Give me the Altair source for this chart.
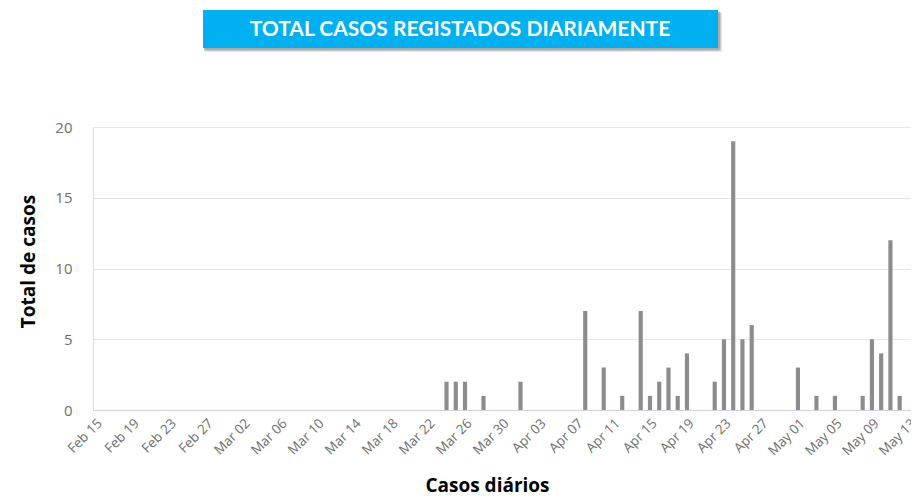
import altair as alt
import pandas as pd

# ---- data ----
start_date = "2020-02-15"
end_date = "2020-05-13"
case_dates = ["2020-03-24", "2020-03-25", "2020-03-26", "2020-03-28", "2020-04-01",
              "2020-04-08", "2020-04-10", "2020-04-12", "2020-04-14", "2020-04-15",
              "2020-04-16", "2020-04-17", "2020-04-18", "2020-04-19", "2020-04-22",
              "2020-04-23", "2020-04-24", "2020-04-25", "2020-04-26", "2020-05-01",
              "2020-05-03", "2020-05-05", "2020-05-08", "2020-05-09", "2020-05-10",
              "2020-05-11", "2020-05-12"]
case_values = [2, 2, 2, 1, 2,
               7, 3, 1, 7, 1,
               2, 3, 1, 4, 2,
               5, 19, 5, 6, 3,
               1, 1, 1, 5, 4,
               12, 1]
y_ticks = [0, 5, 10, 15, 20]
title_text = "TOTAL CASOS REGISTADOS DIARIAMENTE"
x_title = "Casos diários"
y_title = "Total de casos"

days = pd.date_range(start_date, end_date, freq="D")
day_labels = [d.strftime("%b %d") for d in days]
lookup = dict(zip(case_dates, case_values))
df = pd.DataFrame({
    "dia": day_labels,
    "casos": [lookup.get(d.strftime("%Y-%m-%d"), 0) for d in days],
})
tick_labels = day_labels[::4]

TFONT = "Lato"
AFONT = "Open Sans"
W, H = 818, 283

bars = alt.Chart(df).mark_bar(color="#8c8c8c").encode(
    x=alt.X("dia:N", sort=day_labels,
            scale=alt.Scale(paddingInner=0.55, paddingOuter=0.0),
            axis=alt.Axis(values=tick_labels, labelAngle=-45, labelAlign="right",
                          labelBaseline="top", labelPadding=6, ticks=False,
                          domainColor="#ccd6eb", labelColor="#6e6e6e",
                          labelFontSize=13.5, labelFont=AFONT, title=x_title,
                          titleFont=AFONT, titleFontSize=19, titleFontWeight="bold",
                          titleColor="#000000", titleX=394, titleY=85,
                          titleBaseline="bottom", titleAnchor="middle",
                          labelOverlap=False)),
    y=alt.Y("casos:Q", scale=alt.Scale(domain=[0, 20]),
            axis=alt.Axis(values=y_ticks, domain=False, ticks=False,
                          gridColor="#e6e6e6", labelColor="#6e6e6e",
                          labelFontSize=15, labelFont=AFONT, labelPadding=21,
                          title=y_title, titleFont=AFONT, titleFontSize=19,
                          titleFontWeight="bold", titleColor="#000000",
                          titleX=-65, titleY=134, titleBaseline="middle",
                          titleAngle=-90)),
)

one = alt.Data(values=[{"k": 1}])
bx0, bx1, by0, by1 = 110, 625, -117, -79
shadows = []
for i, op in enumerate([0.10, 0.12, 0.15]):
    off = 4 - i
    shadows.append(alt.Chart(one).mark_rect(color="#000000", opacity=op,
                                             cornerRadius=2).encode(
        x=alt.value(bx0 + 1), x2=alt.value(bx1 + off),
        y=alt.value(by0 + 2), y2=alt.value(by1 + off)))
box = alt.Chart(one).mark_rect(color="#00b0f0").encode(
    x=alt.value(bx0), x2=alt.value(bx1), y=alt.value(by0), y2=alt.value(by1))
txt = alt.Chart(one).mark_text(text=title_text, font=TFONT, fontSize=21,
                               fontWeight="bold", color="#ffffff",
                               align="center", baseline="middle").encode(
    x=alt.value(367), y=alt.value(-97.5))

chart = alt.layer(bars, *shadows, box, txt).properties(
    width=W, height=H,
    autosize=alt.AutoSizeParams(type="none"),
    padding={"left": 85, "top": 119, "right": 0, "bottom": 86},
).configure_view(stroke=None).configure(background="#ffffff")

chart.save("out.html", embed_options={"renderer": "svg", "actions": False})
